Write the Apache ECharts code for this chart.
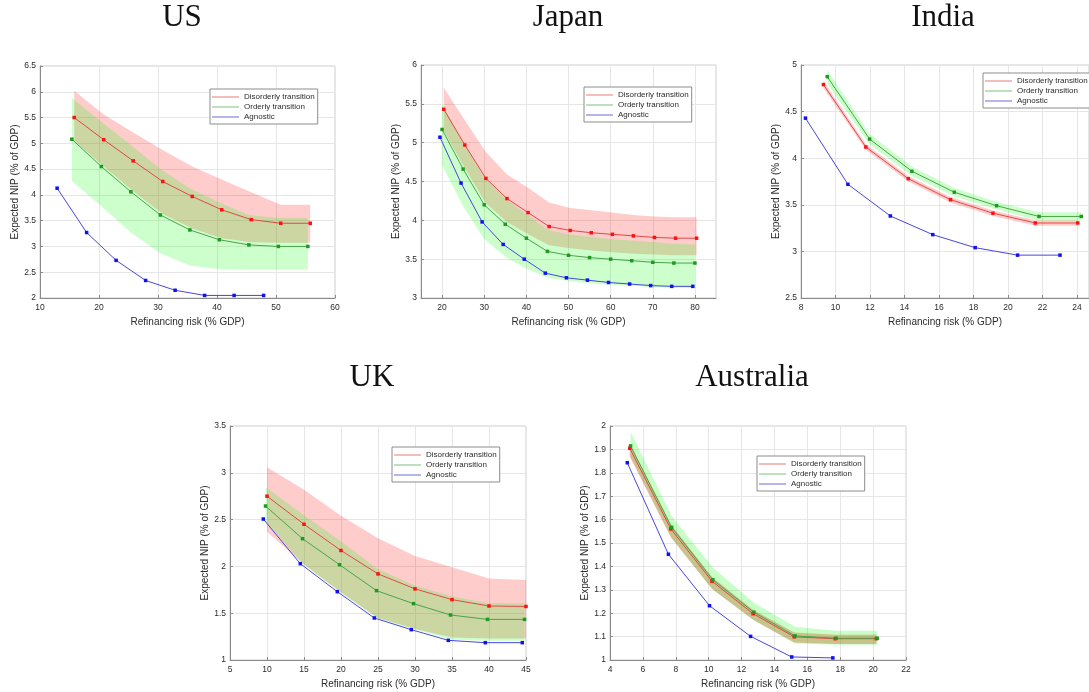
<!DOCTYPE html>
<html>
<head>
<meta charset="utf-8">
<script src="https://cdn.jsdelivr.net/npm/echarts@6/dist/echarts.min.js"></script>
<style>
  html, body { margin: 0; padding: 0; background: #ffffff; }
  #chart { width: 1089px; height: 692px; }
</style>
</head>
<body>
<div id="chart"></div>
<script>
// ---------------- US ----------------
const usDisX  = [15.8, 20.8, 25.8, 30.8, 35.8, 40.8, 45.8, 50.8, 55.8];
const usDis   = [5.50, 5.07, 4.66, 4.26, 3.97, 3.71, 3.52, 3.45, 3.45];
const usDisLo = [5.05, 4.55, 4.07, 3.63, 3.35, 3.16, 3.08, 3.07, 3.07];
const usDisHi = [6.02, 5.56, 5.21, 4.87, 4.55, 4.30, 4.05, 3.81, 3.81];
const usOrdX  = [15.4, 20.4, 25.4, 30.4, 35.4, 40.4, 45.4, 50.4, 55.4];
const usOrd   = [5.08, 4.55, 4.06, 3.61, 3.32, 3.13, 3.03, 3.00, 3.00];
const usOrdLo = [4.27, 3.78, 3.27, 2.87, 2.63, 2.56, 2.55, 2.55, 2.55];
const usOrdHi = [5.88, 5.42, 4.97, 4.50, 4.13, 3.85, 3.61, 3.55, 3.55];
const usAgnX  = [12.9, 17.9, 22.9, 27.9, 32.9, 37.9, 42.9, 47.9];
const usAgn   = [4.13, 3.27, 2.73, 2.34, 2.15, 2.05, 2.05, 2.05];

// ---------------- Japan ----------------
const jpDisX  = [20.4, 25.4, 30.4, 35.4, 40.4, 45.4, 50.4, 55.4, 60.4, 65.4, 70.4, 75.4, 80.4];
const jpDis   = [5.43, 4.97, 4.54, 4.28, 4.10, 3.92, 3.87, 3.84, 3.82, 3.80, 3.78, 3.77, 3.77];
const jpDisLo = [5.15, 4.67, 4.22, 3.98, 3.82, 3.68, 3.64, 3.61, 3.59, 3.57, 3.56, 3.55, 3.55];
const jpDisHi = [5.71, 5.29, 4.88, 4.59, 4.42, 4.23, 4.16, 4.13, 4.10, 4.07, 4.05, 4.04, 4.04];
const jpOrdX  = [20, 25, 30, 35, 40, 45, 50, 55, 60, 65, 70, 75, 80];
const jpOrd   = [5.17, 4.66, 4.20, 3.95, 3.77, 3.60, 3.55, 3.52, 3.50, 3.48, 3.46, 3.45, 3.45];
const jpOrdLo = [4.71, 4.18, 3.76, 3.53, 3.38, 3.26, 3.22, 3.19, 3.17, 3.16, 3.14, 3.13, 3.13];
const jpOrdHi = [5.50, 5.00, 4.55, 4.28, 4.08, 3.88, 3.82, 3.79, 3.76, 3.74, 3.72, 3.70, 3.69];
const jpAgnX  = [19.5, 24.5, 29.5, 34.5, 39.5, 44.5, 49.5, 54.5, 59.5, 64.5, 69.5, 74.5, 79.5];
const jpAgn   = [5.07, 4.48, 3.98, 3.69, 3.50, 3.32, 3.26, 3.23, 3.20, 3.18, 3.16, 3.15, 3.15];

// ---------------- India ----------------
const inDisX  = [9.30, 11.76, 14.22, 16.67, 19.13, 21.59, 24.05];
const inDis   = [4.79, 4.12, 3.78, 3.555, 3.41, 3.305, 3.305];
const inDisLo = [4.75, 4.09, 3.75, 3.525, 3.38, 3.275, 3.275];
const inDisHi = [4.83, 4.15, 3.81, 3.585, 3.44, 3.335, 3.335];
const inOrdX  = [9.52, 11.98, 14.43, 16.89, 19.34, 21.80, 24.25];
const inOrd   = [4.875, 4.205, 3.86, 3.635, 3.49, 3.375, 3.375];
const inOrdLo = [4.80, 4.15, 3.81, 3.59, 3.45, 3.33, 3.33];
const inOrdHi = [4.95, 4.26, 3.91, 3.68, 3.53, 3.42, 3.42];
const inAgnX  = [8.26, 10.72, 13.18, 15.64, 18.10, 20.56, 23.02];
const inAgn   = [4.43, 3.72, 3.38, 3.18, 3.04, 2.96, 2.96];

// ---------------- UK ----------------
const ukDisX  = [10, 15, 20, 25, 30, 35, 40, 45];
const ukDis   = [2.75, 2.45, 2.17, 1.92, 1.76, 1.645, 1.577, 1.572];
const ukDisLo = [2.37, 2.02, 1.72, 1.45, 1.33, 1.24, 1.23, 1.23];
const ukDisHi = [3.06, 2.82, 2.54, 2.30, 2.11, 1.99, 1.87, 1.855];
const ukOrdX  = [9.8, 14.8, 19.8, 24.8, 29.8, 34.8, 39.8, 44.8];
const ukOrd   = [2.645, 2.296, 2.018, 1.741, 1.602, 1.481, 1.434, 1.434];
const ukOrdLo = [2.48, 2.03, 1.73, 1.45, 1.33, 1.22, 1.205, 1.205];
const ukOrdHi = [2.845, 2.56, 2.28, 1.98, 1.80, 1.685, 1.61, 1.606];
const ukAgnX  = [9.5, 14.5, 19.5, 24.5, 29.5, 34.5, 39.5, 44.5];
const ukAgn   = [2.506, 2.029, 1.73, 1.449, 1.324, 1.21, 1.185, 1.185];

// ---------------- Australia ----------------
const auDisX  = [5.2, 7.7, 10.2, 12.7, 15.2, 17.7, 20.2];
const auDis   = [1.905, 1.56, 1.337, 1.198, 1.099, 1.091, 1.091];
const auDisLo = [1.87, 1.525, 1.305, 1.172, 1.075, 1.068, 1.068];
const auDisHi = [1.925, 1.58, 1.355, 1.215, 1.117, 1.108, 1.108];
const auOrdX  = [5.25, 7.75, 10.25, 12.75, 15.25, 17.75, 20.25];
const auOrd   = [1.915, 1.567, 1.343, 1.204, 1.103, 1.093, 1.093];
const auOrdLo = [1.87, 1.52, 1.30, 1.17, 1.07, 1.065, 1.065];
const auOrdHi = [1.975, 1.615, 1.395, 1.245, 1.142, 1.125, 1.125];
const auAgnX  = [5.05, 7.55, 10.05, 12.55, 15.05, 17.55];
const auAgn   = [1.843, 1.452, 1.232, 1.101, 1.013, 1.009];

// Axis tick values
const usXTicks = [10, 20, 30, 40, 50, 60];
const jpXTicks = [20, 30, 40, 50, 60, 70, 80];
const inXTicks = [8, 10, 12, 14, 16, 18, 20, 22, 24];
const ukXTicks = [5, 10, 15, 20, 25, 30, 35, 40, 45];
const auXTicks = [4, 6, 8, 10, 12, 14, 16, 18, 20, 22];

const NAMES = ['Disorderly transition', 'Orderly transition', 'Agnostic'];
const SANS = 'Liberation Sans, Arial, Helvetica, sans-serif';
const SERIF = 'Liberation Serif, Times New Roman, serif';
const TXT = '#2b2b2b';
const AXIS = '#8a8a8a';
const GRIDLINE = '#e6e6e6';

const LINE = { dis: '#e04848', ord: '#4aa44a', agn: '#4646dc' };
const MARK = { dis: '#ff1010', ord: '#1f9a1f', agn: '#1010f0' };
const LEG  = { dis: '#e87a7a', ord: '#7cc07c', agn: '#6a6ad6' };

const panels = [
  { title: 'US', tx: 182, ty: 2,
    grid: { left: 40, top: 66, width: 295, height: 232 },
    x: [10, 60], xTicks: usXTicks, y: [2, 6.5], yStep: 0.5,
    legend: { left: 210, top: 89 },
    dis: [usDisX, usDis, usDisLo, usDisHi], ord: [usOrdX, usOrd, usOrdLo, usOrdHi], agn: [usAgnX, usAgn],
    disAlpha: 0.2, ordAlpha: 0.2 },
  { title: 'Japan', tx: 568, ty: 2,
    grid: { left: 421, top: 65, width: 295, height: 233 },
    x: [15, 85], xTicks: jpXTicks, y: [3, 6], yStep: 0.5,
    legend: { left: 584, top: 87 },
    dis: [jpDisX, jpDis, jpDisLo, jpDisHi], ord: [jpOrdX, jpOrd, jpOrdLo, jpOrdHi], agn: [jpAgnX, jpAgn],
    disAlpha: 0.2, ordAlpha: 0.2 },
  { title: 'India', tx: 943, ty: 2,
    grid: { left: 801, top: 65, width: 296, height: 233 },
    x: [8, 24.7], xTicks: inXTicks, y: [2.5, 5], yStep: 0.5,
    legend: { left: 983, top: 73 },
    dis: [inDisX, inDis, inDisLo, inDisHi], ord: [inOrdX, inOrd, inOrdLo, inOrdHi], agn: [inAgnX, inAgn],
    disAlpha: 0.2, ordAlpha: 0.2 },
  { title: 'UK', tx: 372, ty: 362,
    grid: { left: 230, top: 426, width: 296, height: 234 },
    x: [5, 45], xTicks: ukXTicks, y: [1, 3.5], yStep: 0.5,
    legend: { left: 392, top: 447 },
    dis: [ukDisX, ukDis, ukDisLo, ukDisHi], ord: [ukOrdX, ukOrd, ukOrdLo, ukOrdHi], agn: [ukAgnX, ukAgn],
    disAlpha: 0.2, ordAlpha: 0.2 },
  { title: 'Australia', tx: 752, ty: 362,
    grid: { left: 610, top: 426, width: 296, height: 234 },
    x: [4, 22], xTicks: auXTicks, y: [1, 2], yStep: 0.1,
    legend: { left: 757, top: 456 },
    dis: [auDisX, auDis, auDisLo, auDisHi], ord: [auOrdX, auOrd, auOrdLo, auOrdHi], agn: [auAgnX, auAgn],
    disAlpha: 0.3, ordAlpha: 0.22 }
];

// Shaded uncertainty band: one polygon through the upper edge and back along the lower edge
function bandSeries(i, xs, lo, hi, fill) {
  const data = xs.map((x, k) => [x, lo[k], hi[k]]);
  return {
    type: 'custom', xAxisIndex: i, yAxisIndex: i, silent: true, z: 1,
    clip: true, animation: false,
    encode: { x: 0, y: [1, 2] },
    data: data,
    renderItem: function (params, api) {
      if (params.dataIndex !== 0) return;
      const upper = data.map(d => api.coord([d[0], d[2]]));
      const lower = data.map(d => api.coord([d[0], d[1]])).reverse();
      return { type: 'polygon', shape: { points: upper.concat(lower) }, style: { fill: fill } };
    }
  };
}

function lineSeries(i, name, xs, ys, key) {
  return {
    type: 'line', name: name, xAxisIndex: i, yAxisIndex: i, z: 3,
    data: xs.map((x, k) => [x, ys[k]]),
    symbol: 'rect', symbolSize: 3.5, showSymbol: true, animation: false,
    lineStyle: { width: 1, color: LINE[key] },
    itemStyle: { color: MARK[key], borderWidth: 0 },
    emphasis: { disabled: true }
  };
}

const grids = [], xAxes = [], yAxes = [], series = [], legends = [], graphics = [];

panels.forEach((p, i) => {
  grids.push(Object.assign({ show: true, borderColor: '#cfcfcf', borderWidth: 1, backgroundColor: 'transparent', containLabel: false }, p.grid));

  xAxes.push({
    gridIndex: i, type: 'value', min: p.x[0], max: p.x[1],
    name: 'Refinancing risk (% GDP)', nameLocation: 'middle', nameGap: 19,
    nameTextStyle: { fontFamily: SANS, fontSize: 10, color: TXT },
    axisLine: { show: true, onZero: false, lineStyle: { color: AXIS, width: 1 } },
    axisTick: { show: true, inside: true, length: 3, lineStyle: { color: AXIS }, customValues: p.xTicks },
    axisLabel: { fontFamily: SANS, fontSize: 8.5, color: TXT, margin: 5, customValues: p.xTicks },
    splitLine: { show: true, lineStyle: { color: GRIDLINE, width: 1 } }
  });

  yAxes.push({
    gridIndex: i, type: 'value', min: p.y[0], max: p.y[1], interval: p.yStep,
    name: 'Expected NIP (% of GDP)', nameLocation: 'middle', nameGap: 20, nameRotate: 90,
    nameTextStyle: { fontFamily: SANS, fontSize: 10, color: TXT },
    axisLine: { show: true, onZero: false, lineStyle: { color: AXIS, width: 1 } },
    axisTick: { show: true, inside: true, length: 3, lineStyle: { color: AXIS } },
    axisLabel: { fontFamily: SANS, fontSize: 8.5, color: TXT, margin: 4 },
    splitLine: { show: true, lineStyle: { color: GRIDLINE, width: 1 } }
  });

  series.push(bandSeries(i, p.dis[0], p.dis[2], p.dis[3], 'rgba(255,0,0,' + p.disAlpha + ')'));
  series.push(bandSeries(i, p.ord[0], p.ord[2], p.ord[3], 'rgba(0,255,0,' + p.ordAlpha + ')'));
  series.push(lineSeries(i, NAMES[0], p.dis[0], p.dis[1], 'dis'));
  series.push(lineSeries(i, NAMES[1], p.ord[0], p.ord[1], 'ord'));
  series.push(lineSeries(i, NAMES[2], p.agn[0], p.agn[1], 'agn'));

  legends.push({
    left: p.legend.left, top: p.legend.top, orient: 'vertical',
    selectedMode: false, icon: 'rect', itemWidth: 27, itemHeight: 1, itemGap: 0,
    padding: [3, 3, 2, 2], backgroundColor: '#ffffff',
    borderColor: '#8c8c8c', borderWidth: 1, borderRadius: 0,
    textStyle: { fontFamily: SANS, fontSize: 8, lineHeight: 10, color: TXT },
    data: [
      { name: NAMES[0], itemStyle: { color: LEG.dis, borderWidth: 0 } },
      { name: NAMES[1], itemStyle: { color: LEG.ord, borderWidth: 0 } },
      { name: NAMES[2], itemStyle: { color: LEG.agn, borderWidth: 0 } }
    ]
  });

  graphics.push({
    type: 'text', x: p.tx, y: p.ty, silent: true,
    style: { text: p.title, fill: '#111111', fontFamily: SERIF, fontSize: 31,
             align: 'center', textAlign: 'center', verticalAlign: 'top', textVerticalAlign: 'top' }
  });
});

const chart = echarts.init(document.getElementById('chart'), null, { renderer: 'canvas' });
chart.setOption({
  backgroundColor: '#ffffff',
  animation: false,
  grid: grids,
  xAxis: xAxes,
  yAxis: yAxes,
  legend: legends,
  graphic: graphics,
  series: series
});
</script>
</body>
</html>
